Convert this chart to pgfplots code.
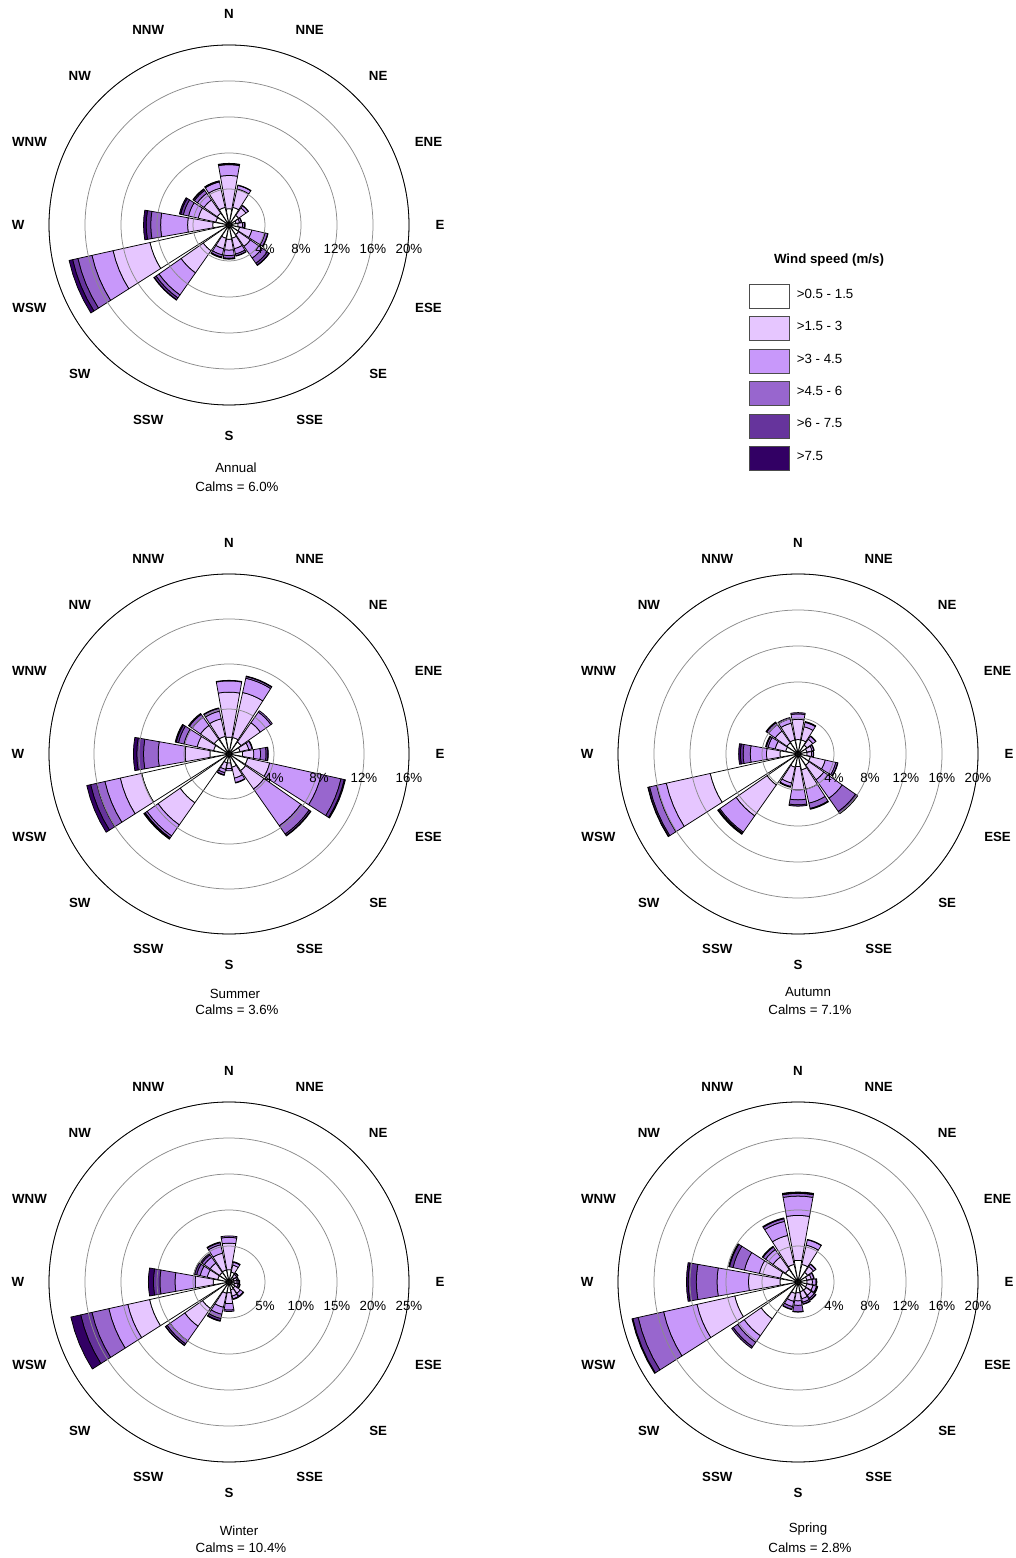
\documentclass[border=0pt]{standalone}
\usepackage{fontspec}
\setmainfont{Liberation Sans}
\usepackage{pgfplots}
\usepackage{pgfplotstable}
\pgfplotsset{compat=1.18}
\usepgfplotslibrary{polar}

\definecolor{ws1}{RGB}{255,255,255}
\definecolor{ws2}{RGB}{230,198,255}
\definecolor{ws3}{RGB}{200,152,250}
\definecolor{ws4}{RGB}{152,102,206}
\definecolor{ws5}{RGB}{102,52,156}
\definecolor{ws6}{RGB}{50,0,100}

\newcommand\fs{\fontsize{13.3}{16}\selectfont}

% direction index: 0=N,1=NNE,...,15=NNW ; columns: % frequency per speed class
\pgfplotstableread{
d c1 c2 c3 c4 c5 c6
0 1.8 3.7 1.2 0.1 0.05 0
1 2.0 2.1 0.4 0.05 0 0
2 1.3 1.0 0.3 0.05 0 0
3 0.8 0.4 0.2 0.05 0 0
4 1.0 0.5 0.2 0.1 0 0
5 1.2 1.4 1.5 0.3 0.05 0
6 1.3 1.6 1.6 0.7 0.25 0.05
7 1.5 1.2 0.6 0.2 0.05 0
8 1.6 1.2 0.6 0.3 0.1 0
9 1.5 1.2 0.7 0.25 0.1 0
10 3.5 3.0 3.0 0.4 0.25 0.05
11 9.0 4.2 2.4 1.6 0.6 0.4
12 1.8 2.8 3.0 1.1 0.5 0.3
13 1.5 2.0 1.1 0.6 0.3 0.15
14 1.6 1.8 0.9 0.4 0.15 0.05
15 2.0 2.2 0.7 0.1 0.03 0
}\annualtab

\pgfplotstableread{
d c1 c2 c3 c4 c5 c6
0 1.5 4.0 1.0 0.05 0 0
1 1.5 4.1 1.3 0.15 0.05 0
2 1.3 2.1 1.15 0.15 0 0
3 1.0 0.8 0.3 0.05 0 0
4 1.2 1.0 0.6 0.5 0.15 0.05
5 1.7 2.0 4.7 1.8 0.3 0.1
6 1.8 2.0 4.0 0.9 0.15 0.05
7 1.2 1.0 0.4 0.05 0 0
8 0.8 0.5 0.2 0 0 0
9 0.8 0.6 0.3 0.2 0.05 0
10 5.3 2.4 1.2 0.2 0.1 0.05
11 7.95 1.95 1.4 0.75 0.55 0.35
12 1.7 2.2 2.4 1.3 0.6 0.3
13 1.4 1.5 1.2 0.5 0.2 0.1
14 1.6 1.5 0.9 0.3 0.1 0
15 1.6 1.6 0.7 0.25 0.05 0
}\summertab

\pgfplotstableread{
d c1 c2 c3 c4 c5 c6
0 1.6 2.25 0.6 0.15 0 0
1 1.6 1.5 0.5 0.1 0 0
2 1.2 0.8 0.4 0.05 0 0
3 1.0 0.6 0.2 0.05 0 0
4 1.0 0.5 0.2 0.05 0 0
5 1.4 1.7 1.2 0.2 0.05 0
6 1.5 2.0 2.5 1.8 0.25 0.05
7 1.8 2.2 1.6 0.6 0.1 0
8 1.4 2.6 1.1 0.55 0.15 0
9 1.5 1.8 0.4 0.1 0 0
10 4.2 4.2 2.2 0.15 0.1 0.05
11 10.0 5.0 1.1 0.8 0.15 0.05
12 2.0 1.5 1.8 0.8 0.3 0.2
13 1.4 1.2 0.8 0.2 0.1 0
14 1.5 1.6 0.9 0.25 0.1 0
15 1.6 1.9 0.5 0.15 0 0
}\autumntab

\pgfplotstableread{
d c1 c2 c3 c4 c5 c6
0 1.7 3.7 0.8 0.2 0 0
1 1.4 1.0 0.4 0.1 0 0
2 0.8 0.5 0.2 0.05 0 0
3 0.7 0.4 0.2 0.05 0 0
4 0.7 0.4 0.2 0.15 0.05 0
5 0.8 0.5 0.2 0.1 0 0
6 1.0 0.9 0.5 0.1 0 0
7 1.1 0.9 0.4 0.1 0 0
8 1.5 1.5 0.9 0.2 0 0
9 1.6 2.0 1.0 0.6 0.3 0.1
10 4.5 3.0 2.5 0.5 0.25 0.05
11 11.3 3.1 2.7 2.4 1.6 1.4
12 2.2 2.5 2.8 2.1 0.9 0.7
13 1.6 1.5 1.0 0.5 0.3 0.1
14 1.6 1.6 1.0 0.4 0.2 0
15 1.7 2.4 1.2 0.3 0.1 0
}\wintertab

\pgfplotstableread{
d c1 c2 c3 c4 c5 c6
0 2.4 5.0 2.15 0.3 0.1 0.05
1 2.0 2.2 0.6 0.05 0 0
2 1.3 0.8 0.3 0.05 0 0
3 1.0 0.5 0.3 0.05 0 0
4 1.0 0.6 0.4 0.1 0 0
5 1.0 0.7 0.4 0.1 0.05 0
6 1.1 0.7 0.4 0.2 0.05 0
7 1.1 0.8 0.4 0.2 0.05 0
8 1.2 0.9 0.5 0.7 0.05 0
9 1.3 0.9 0.6 0.3 0.05 0
10 5.0 2.3 0.9 0.6 0.2 0
11 7.2 4.3 3.8 2.9 0.6 0.1
12 2.0 3.5 3.5 2.3 0.9 0.2
13 2.0 2.4 1.7 1.3 0.4 0.1
14 1.7 1.7 1.0 0.35 0.1 0
15 2.0 3.3 1.6 0.3 0.1 0
}\springtab

% draw the stacked wedges of one wind rose from its table
\newcommand\rosebars[1]{%
  \pgfplotsforeachungrouped \dir in {0,...,15}{%
    \pgfmathsetmacro\aC{90-22.5*\dir}%
    \pgfmathsetmacro\aA{\aC-10}%
    \pgfmathsetmacro\aB{\aC-5}%
    \pgfmathsetmacro\aD{\aC+5}%
    \pgfmathsetmacro\aE{\aC+10}%
    \def\rlo{0}%
    \pgfplotsforeachungrouped \cls in {1,...,6}{%
      \edef\getcmd{\noexpand\pgfplotstablegetelem{\dir}{c\cls}\noexpand\of{\noexpand#1}}%
      \getcmd
      \let\val\pgfplotsretval
      \pgfmathsetmacro\rhi{\rlo+\val}%
      \ifdim\val pt>0.001pt
        \edef\tmp{\noexpand\addplot[wedge, fill=ws\cls] coordinates {(\aA,\rlo) (\aA,\rhi) (\aB,\rhi) (\aC,\rhi) (\aD,\rhi) (\aE,\rhi) (\aE,\rlo) (\aD,\rlo) (\aC,\rlo) (\aB,\rlo)} -- cycle;}%
        \tmp
      \fi
      \let\rlo\rhi
    }%
  }%
}

% #1 radius for short labels, #2 radius for the wide ones
\newcommand\dirlabels[2]{%
  \node[dirlab] at (axis cs:90,#1) {N};
  \node[dirlab] at (axis cs:67.5,#1) {NNE};
  \node[dirlab] at (axis cs:45,#1) {NE};
  \node[dirlab] at (axis cs:22.5,#2) {ENE};
  \node[dirlab] at (axis cs:0,#1) {E};
  \node[dirlab] at (axis cs:337.5,#2) {ESE};
  \node[dirlab] at (axis cs:315,#1) {SE};
  \node[dirlab] at (axis cs:292.5,#1) {SSE};
  \node[dirlab] at (axis cs:270,#1) {S};
  \node[dirlab] at (axis cs:247.5,#1) {SSW};
  \node[dirlab] at (axis cs:225,#1) {SW};
  \node[dirlab] at (axis cs:202.5,#2) {WSW};
  \node[dirlab] at (axis cs:180,#1) {W};
  \node[dirlab] at (axis cs:157.5,#2) {WNW};
  \node[dirlab] at (axis cs:135,#1) {NW};
  \node[dirlab] at (axis cs:112.5,#1) {NNW};
}

\pgfplotsset{
  wedge/.style={draw=black, line width=0.75pt, line join=round},
  rose/.style={
    width=360pt, height=360pt, scale only axis,
    xmin=0, xmax=360, ymin=0, ymax=#1,
    xtick=\empty,
    ymajorgrids, axis on top, clip=false,
    major tick length=0pt,
    grid style={draw=gray!90, line width=0.75pt},
    separate axis lines,
    axis line style={black, line width=0.8pt},
    y axis line style={draw=none},
    yticklabel style={font=\fs, anchor=center, yshift=-24pt},
    anchor=center,
  },
}
\tikzset{dirlab/.style={font=\fs\bfseries, anchor=center, inner sep=0pt}}

\begin{document}
\begin{tikzpicture}
\path[use as bounding box] (0pt,0pt) rectangle (1016pt,1558pt);

% Annual
\begin{polaraxis}[rose=20, at={(229pt,1333pt)},
  ytick={4,8,12,16,20}, yticklabels={4\%,8\%,12\%,16\%,20\%}]
\rosebars{\annualtab}
\dirlabels{23.44}{24.0}
\end{polaraxis}
\node[font=\fs] at (236pt,1090pt) {Annual};
\node[font=\fs] at (237pt,1071pt) {Calms = 6.0\%};

% Summer
\begin{polaraxis}[rose=16, at={(229pt,804pt)},
  ytick={4,8,12,16}, yticklabels={4\%,8\%,12\%,16\%}]
\rosebars{\summertab}
\dirlabels{18.76}{19.2}
\end{polaraxis}
\node[font=\fs] at (235pt,564pt) {Summer};
\node[font=\fs] at (237pt,548pt) {Calms = 3.6\%};

% Autumn
\begin{polaraxis}[rose=20, at={(798pt,804pt)},
  ytick={4,8,12,16,20}, yticklabels={4\%,8\%,12\%,16\%,20\%}]
\rosebars{\autumntab}
\dirlabels{23.44}{24.0}
\end{polaraxis}
\node[font=\fs] at (808pt,566pt) {Autumn};
\node[font=\fs] at (810pt,548pt) {Calms = 7.1\%};

% Winter
\begin{polaraxis}[rose=25, at={(229pt,276pt)},
  ytick={5,10,15,20,25}, yticklabels={5\%,10\%,15\%,20\%,25\%}]
\rosebars{\wintertab}
\dirlabels{29.31}{30.0}
\end{polaraxis}
\node[font=\fs] at (239pt,27pt) {Winter};
\node[font=\fs] at (241pt,10pt) {Calms = 10.4\%};

% Spring
\begin{polaraxis}[rose=20, at={(798pt,276pt)},
  ytick={4,8,12,16,20}, yticklabels={4\%,8\%,12\%,16\%,20\%}]
\rosebars{\springtab}
\dirlabels{23.44}{24.0}
\end{polaraxis}
\node[font=\fs] at (808pt,29pt) {Spring};
\node[font=\fs] at (810pt,10pt) {Calms = 2.8\%};

% Legend
\node[font=\fs\bfseries] at (829pt,1298pt) {Wind speed (m/s)};
\begin{axis}[hide axis, scale only axis, width=10pt, height=10pt,
  xmin=0, xmax=1, ymin=0, ymax=1,
  at={(749pt,1274pt)}, anchor=north west,
  legend style={at={(0,1)}, anchor=north west, draw=none, fill=none,
    inner sep=0pt, outer sep=0pt, font=\fs, row sep=7.6pt,
    column sep=5pt, cells={anchor=west}},
  legend cell align=left,
  legend image code/.code={\draw[#1] (0pt,-14pt) rectangle (40pt,10pt);}]
\addlegendimage{fill=ws1, draw=gray!60!black, line width=0.8pt}
\addlegendentry{>0.5 - 1.5}
\addlegendimage{fill=ws2, draw=gray!60!black, line width=0.8pt}
\addlegendentry{>1.5 - 3}
\addlegendimage{fill=ws3, draw=gray!60!black, line width=0.8pt}
\addlegendentry{>3 - 4.5}
\addlegendimage{fill=ws4, draw=gray!60!black, line width=0.8pt}
\addlegendentry{>4.5 - 6}
\addlegendimage{fill=ws5, draw=gray!60!black, line width=0.8pt}
\addlegendentry{>6 - 7.5}
\addlegendimage{fill=ws6, draw=gray!60!black, line width=0.8pt}
\addlegendentry{>7.5}
\end{axis}
\end{tikzpicture}
\end{document}
